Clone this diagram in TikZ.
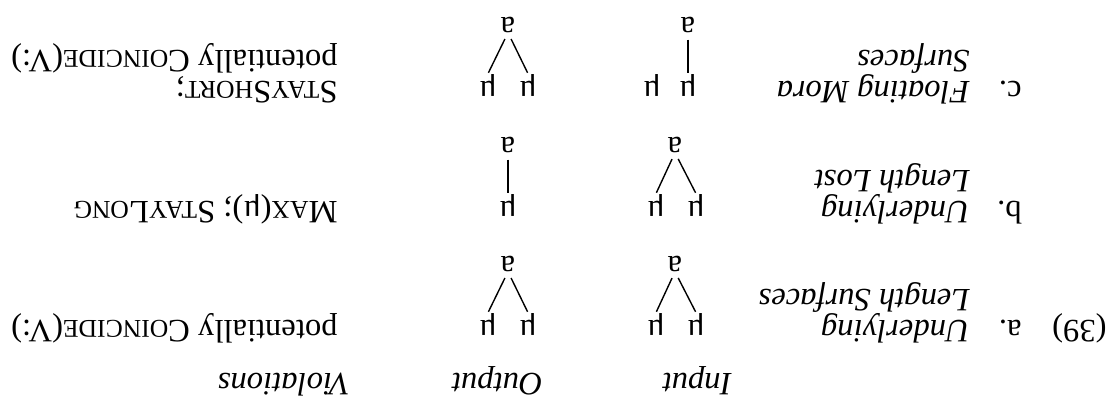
\documentclass[tikz,border=0pt]{standalone}
\usepackage{fontspec}
\setmainfont{Liberation Serif}
\newcommand\SCs[1]{{\fontsize{12.8pt}{12.8pt}\selectfont #1}}
\begin{document}
\begin{tikzpicture}[x=0.5pt,y=-0.5pt,
  every node/.style={rotate=180, inner sep=0pt, font=\fontsize{16.3pt}{16.3pt}\selectfont},
  txt/.style={anchor=base west},
  sym/.style={anchor=base},
  link/.style={line width=0.7pt, shorten <=3.5pt, shorten >=0.5pt}]
\useasboundingbox (0,0) rectangle (1110,397);
% header
\node[txt] (hin) at (732,373) {\textit{Input}};
\node[txt] (hout) at (543,373) {\textit{Output}};
\node[txt] (hviol) at (350,373) {\textit{Violations}};
% row a
\node[txt] (num) at (1107,320) {(39)};
\node[txt] (la) at (1022,320) {a.};
\node[txt] (la1) at (970,320) {\textit{Underlying}};
\node[txt] (la2) at (970,289) {\textit{Length Surfaces}};
\node[sym] (ai1) at (696,320) {μ};
\node[sym] (ai2) at (656,320) {μ};
\node[sym] (aiv) at (675,256) {a};
\draw[link] (aiv.north) -- (ai1.south);
\draw[link] (aiv.north) -- (ai2.south);
\node[sym] (ao1) at (528,320) {μ};
\node[sym] (ao2) at (488,320) {μ};
\node[sym] (aov) at (508,256) {a};
\draw[link] (aov.north) -- (ao1.south);
\draw[link] (aov.north) -- (ao2.south);
\node[txt] (va) at (338,320) {potentially C\SCs{OINCIDE}(V:)};
% row b
\node[txt] (lb) at (1022,201) {b.};
\node[txt] (lb1) at (970,201) {\textit{Underlying}};
\node[txt] (lb2) at (970,170) {\textit{Length Lost}};
\node[sym] (bi1) at (696,201) {μ};
\node[sym] (bi2) at (656,201) {μ};
\node[sym] (biv) at (675,137) {a};
\draw[link] (biv.north) -- (bi1.south);
\draw[link] (biv.north) -- (bi2.south);
\node[sym] (bo1) at (508,201) {μ};
\node[sym] (bov) at (508,137) {a};
\draw[link] (bov.north) -- (bo1.south);
\node[txt] (vb) at (338,201) {M\SCs{AX}(μ); S\SCs{TAY}L\SCs{ONG}};
% row c
\node[txt] (lc) at (1022,81) {c.};
\node[txt] (lc1) at (970,81) {\textit{Floating Mora}};
\node[txt] (lc2) at (970,50) {\textit{Surfaces}};
\node[sym] (ci1) at (688,81) {μ};
\node[sym] (ci2) at (652,81) {μ};
\node[sym] (civ) at (688,17) {a};
\draw[link] (civ.north) -- (ci1.south);
\node[sym] (co1) at (528,81) {μ};
\node[sym] (co2) at (488,81) {μ};
\node[sym] (cov) at (508,17) {a};
\draw[link] (cov.north) -- (co1.south);
\draw[link] (cov.north) -- (co2.south);
\node[txt] (vc1) at (338,81) {S\SCs{TAY}S\SCs{HORT};};
\node[txt] (vc2) at (338,50) {potentially C\SCs{OINCIDE}(V:)};
\end{tikzpicture}
\end{document}
